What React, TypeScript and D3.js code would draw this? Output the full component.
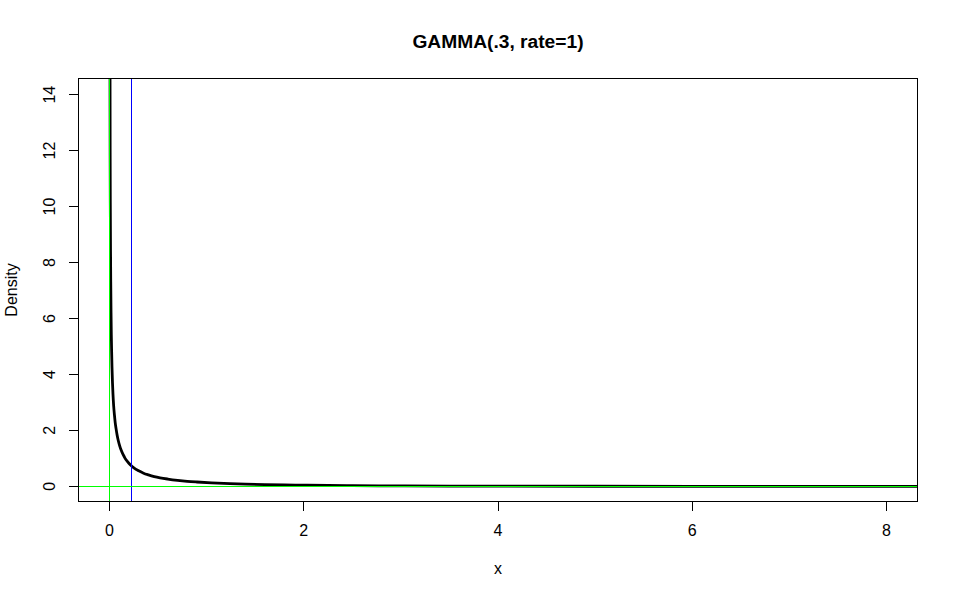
import React from "react";
import * as d3 from "d3";

// Density curve points (x, density)
const curveX = [0.003, 0.004, 0.005, 0.006, 0.008, 0.010, 0.012, 0.015, 0.018, 0.022, 0.025, 0.030, 0.035, 0.042, 0.050, 0.058, 0.066, 0.078, 0.090, 0.105, 0.120, 0.140, 0.160, 0.185, 0.213, 0.250, 0.300, 0.350, 0.400, 0.460, 0.520, 0.600, 0.700, 0.800, 0.900, 1.050, 1.240, 1.400, 1.600, 1.800, 2.000, 2.250, 2.500, 3.000, 3.500, 4.000, 5.000, 6.000, 7.000, 8.000, 8.400];
const curveY = [19.8, 16.5, 14.2, 11.9, 9.75, 8.35, 7.30, 6.20, 5.40, 4.70, 4.25, 3.70, 3.30, 2.88, 2.55, 2.28, 2.08, 1.83, 1.63, 1.44, 1.29, 1.13, 1.00, 0.88, 0.77, 0.66, 0.555, 0.47, 0.41, 0.35, 0.305, 0.26, 0.215, 0.18, 0.155, 0.125, 0.095, 0.078, 0.062, 0.050, 0.040, 0.030, 0.0235, 0.0145, 0.009, 0.0058, 0.0024, 0.001, 0.0004, 0.00017, 0.0001];

const xTicks = [0, 2, 4, 6, 8];
const yTicks = [0, 2, 4, 6, 8, 10, 12, 14];
const xLimits = [0, 8];
const yLimits = [0, 14];

const greenVLineX = [0];
const greenHLineY = [0];
const blueVLineX = [0.227];

const titleText = "GAMMA(.3, rate=1)";
const xLabel = "x";
const yLabel = "Density";

export default function App() {
  const W = 958;
  const H = 600;
  const lineH = 19.2;
  const left = 78.5, right = 917.5, top = 78.5, bottom = 501.5;

  const xPad = (xLimits[1] - xLimits[0]) * 0.04;
  const yPad = (yLimits[1] - yLimits[0]) * 0.04;
  const x = d3.scaleLinear().domain([xLimits[0] - xPad, xLimits[1] + xPad]).range([left, right]);
  const y = d3.scaleLinear().domain([yLimits[0] - yPad, yLimits[1] + yPad]).range([bottom + 0.5, top + 0.5]);

  const pts: [number, number][] = curveX.map((v, i) => [v, curveY[i]]);
  const line = d3
    .line<[number, number]>()
    .x((d) => x(d[0]))
    .y((d) => y(d[1]))
    .curve(d3.curveMonotoneX);

  const font = "'Liberation Sans', Arial, sans-serif";
  const tickLen = 0.5 * lineH;

  return (
    <svg
      width={W}
      height={H}
      style={{ position: "absolute", left: 0, top: 0, background: "#fff" }}
      fontFamily={font}
    >
      <rect x={0} y={0} width={W} height={H} fill="#fff" />
      <defs>
        <clipPath id="plotClip">
          <rect x={left} y={top} width={right - left} height={bottom - top} />
        </clipPath>
      </defs>

      <g clipPath="url(#plotClip)">
        <path d={line(pts) || ""} fill="none" stroke="#000" strokeWidth={2.8} strokeLinejoin="round" />
        {blueVLineX.map((v, i) => (
          <line key={"b" + i} x1={x(v)} x2={x(v)} y1={top} y2={bottom} stroke="#0000FF" strokeWidth={1} shapeRendering="crispEdges" />
        ))}
        {greenVLineX.map((v, i) => (
          <line key={"gv" + i} x1={x(v)} x2={x(v)} y1={top} y2={bottom} stroke="#00FF00" strokeWidth={1} shapeRendering="crispEdges" />
        ))}
        {greenHLineY.map((v, i) => (
          <line key={"gh" + i} x1={left} x2={right} y1={y(v)} y2={y(v)} stroke="#00FF00" strokeWidth={1.2} shapeRendering="crispEdges" />
        ))}
      </g>

      <rect x={left} y={top} width={right - left} height={bottom - top} fill="none" stroke="#000" strokeWidth={1} shapeRendering="crispEdges" />

      {/* x axis */}
      <g>
        {xTicks.map((t) => (
          <g key={"xt" + t}>
            <line x1={x(t)} x2={x(t)} y1={bottom} y2={bottom + tickLen} stroke="#000" strokeWidth={1} shapeRendering="crispEdges" />
            <text x={x(t)} y={bottom + 1.8 * lineH} textAnchor="middle" fontSize={16} fill="#000">
              {t}
            </text>
          </g>
        ))}
      </g>

      {/* y axis */}
      <g>
        {yTicks.map((t) => (
          <g key={"yt" + t}>
            <line x1={left - tickLen} x2={left} y1={y(t)} y2={y(t)} stroke="#000" strokeWidth={1} shapeRendering="crispEdges" />
            <text
              transform={`translate(${left - 1.2 * lineH},${y(t)}) rotate(-90)`}
              textAnchor="middle"
              fontSize={16}
              fill="#000"
            >
              {t}
            </text>
          </g>
        ))}
      </g>

      <text x={(left + right) / 2} y={bottom + 3.8 * lineH} textAnchor="middle" fontSize={16} fill="#000">
        {xLabel}
      </text>
      <text
        transform={`translate(${left - 3.2 * lineH},${(top + bottom) / 2}) rotate(-90)`}
        textAnchor="middle"
        fontSize={16}
        fill="#000"
      >
        {yLabel}
      </text>
      <text x={(left + right) / 2} y={48} textAnchor="middle" fontSize={19.2} fontWeight="bold" fill="#000">
        {titleText}
      </text>
    </svg>
  );
}
